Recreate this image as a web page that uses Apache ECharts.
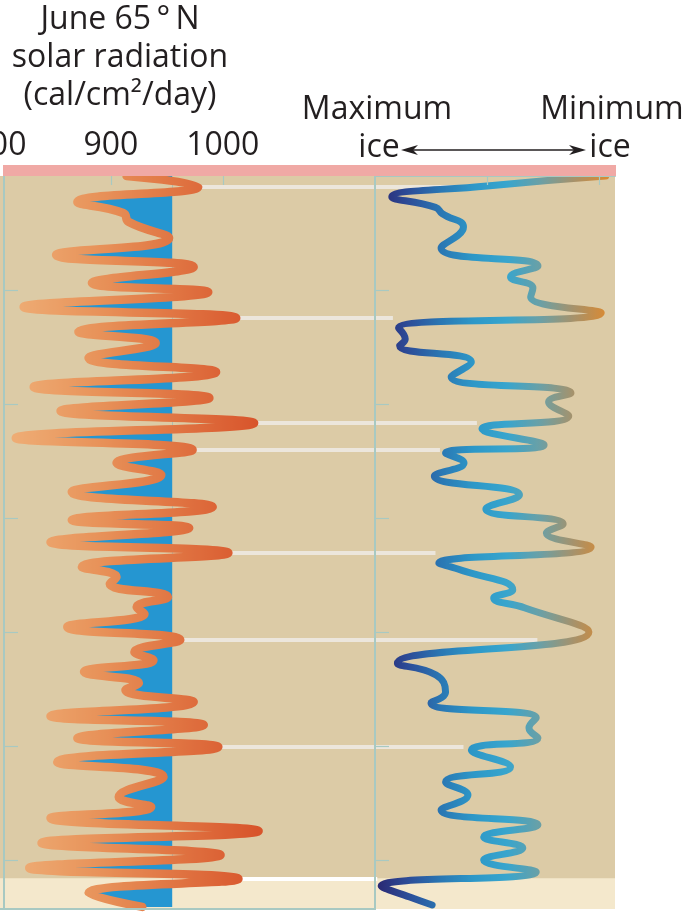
<!DOCTYPE html>
<html><head><meta charset="utf-8">
<script src="https://cdn.jsdelivr.net/npm/echarts@6/dist/echarts.min.js"></script>
<style>html,body{margin:0;padding:0;background:#fff}#c{width:692px;height:912px}</style>
</head><body><div id="c"></div>
<script>
// ---------- data (age in thousand years before present, downward) ----------
const radAges = [0, 9.6, 22.8, 32.5, 40.4, 54.4, 69.3, 79.8, 93.9, 101.8, 114.9, 124.6, 136.8, 146.5, 159.6, 171.9, 185.1, 194.7, 206.1, 216.7, 229.8, 240.4, 251.8, 262.3, 277.2, 290.4, 301.8, 308.8, 321.1, 330.7, 343.0, 351.8, 357.9, 369.3, 378.1, 384, 395.6, 407, 417.5, 424.6, 435.1, 444.7, 450.9, 461.4, 473.7, 481.6, 493, 500.9, 514, 527.2, 544.7, 553.5, 563.2, 574.6, 585.1, 595.6, 607, 616.7, 629, 641.2];
const radValues = [914, 978, 870, 911, 916, 952, 851, 974, 883, 987, 822, 1012, 871, 940, 880, 994, 831, 988, 855, 1028, 815, 973, 905, 945, 865, 991, 865, 970, 846, 1005, 874, 905, 899, 951, 923, 930, 861, 962, 921, 938, 876, 925, 913, 974, 846, 983, 870, 996, 852, 947, 907, 936, 846, 1032, 838, 998, 827, 1014, 880, 928];
const iceAges = [0, 8.8, 18.4, 27.5, 33, 44.7, 63.2, 78.9, 88.6, 98.2, 106.1, 120.2, 133.3, 143, 149, 163.2, 176.3, 190.4, 198.2, 210.5, 221.9, 236, 243, 251.8, 263.2, 279.8, 292.1, 305.3, 313.2, 325.4, 339.5, 344.7, 363.2, 370.2, 378.9, 400, 427.5, 437.7, 452.6, 462.3, 475.4, 484.2, 493, 503.5, 518.4, 531.6, 543, 556.1, 569.3, 579.8, 589.5, 600, 610.5, 622.8, 632.5, 639.5];
const iceValues = [2.06, 1.0, 0.15, 0.54, 0.6, 0.79, 0.59, 1.455, 1.21, 1.41, 1.39, 2.02, 0.21, 0.27, 0.22, 0.86, 0.68, 1.75, 1.55, 1.73, 0.955, 1.51, 0.63, 0.795, 0.53, 1.29, 0.99, 1.68, 1.53, 1.93, 0.57, 0.74, 1.23, 1.06, 1.34, 1.91, 0.2, 0.545, 0.63, 0.5, 1.44, 1.375, 1.455, 0.86, 1.21, 0.63, 0.83, 0.59, 1.455, 0.97, 1.32, 0.97, 1.44, 0.055, 0.31, 0.51];
const radTickLabels = [800, 900, 1000];
const radTicks = [900, 1000];
const iceTicks = [1, 2];
const ageTicks = [100, 200, 300, 400, 500, 600];
const radThreshold = 955;
const linkAges = [9.6, 124.6, 216.7, 240.4, 330.7, 407, 500.9, 616.7];
const linkIce = [1.0, 0.16, 0.91, 0.58, 0.54, 1.45, 0.79, 0.02];
const highlightAges = [616, 643];
const titleLines = ['June 65\u2009°\u2009N', 'solar radiation', '(cal/cm²/day)'];

// ---------- config ----------
const RAD_MIN = 800, RAD_MAX = 1136, ICE_MIN = 0, ICE_MAX = 2.143, AGE_MIN = 0, AGE_MAX = 643;
const FONT = '"Open Sans", "Noto Sans", sans-serif';
const INK = '#231f20';
const BEIGE = '#dccba6';
const LIGHT = '#f4e8cc';
const AXIS = '#a8c9c2';

function smoothPath(pts, smooth) {
  let d = '';
  let prevX, prevY, cpx0, cpy0, cpx1, cpy1;
  const n = pts.length;
  for (let i = 0; i < n; i++) {
    const x = pts[i][0], y = pts[i][1];
    if (i === 0) { d += 'M ' + x + ' ' + y; cpx0 = x; cpy0 = y; }
    else {
      const ddx = x - prevX, ddy = y - prevY;
      if (ddx * ddx + ddy * ddy < 0.5) continue;
      let ncx, ncy;
      if (i === n - 1) { cpx1 = x; cpy1 = y; }
      else {
        const nx = pts[i + 1][0], ny = pts[i + 1][1];
        let vx = nx - prevX, vy = ny - prevY;
        const lp = Math.hypot(x - prevX, y - prevY), ln = Math.hypot(nx - x, ny - y);
        const r = ln / (ln + lp);
        ncx = x + vx * smooth * r; ncy = y + vy * smooth * r;
        ncx = Math.min(ncx, Math.max(nx, x)); ncy = Math.min(ncy, Math.max(ny, y));
        ncx = Math.max(ncx, Math.min(nx, x)); ncy = Math.max(ncy, Math.min(ny, y));
        vx = ncx - x; vy = ncy - y;
        cpx1 = x - vx * lp / ln; cpy1 = y - vy * lp / ln;
        cpx1 = Math.min(cpx1, Math.max(prevX, x)); cpy1 = Math.min(cpy1, Math.max(prevY, y));
        cpx1 = Math.max(cpx1, Math.min(prevX, x)); cpy1 = Math.max(cpy1, Math.min(prevY, y));
        vx = x - cpx1; vy = y - cpy1;
        ncx = x + vx * ln / lp; ncy = y + vy * ln / lp;
      }
      d += ' C ' + [cpx0, cpy0, cpx1, cpy1, x, y].join(' ');
      cpx0 = ncx; cpy0 = ncy;
    }
    prevX = x; prevY = y;
  }
  return d;
}

function bandRender(params, api) {
  const cs = params.coordSys;
  const y0 = api.coord([api.value(0), highlightAges[0]])[1];
  const y1 = api.coord([api.value(0), highlightAges[1]])[1];
  return { type: 'rect', shape: { x: cs.x, y: y0, width: cs.width, height: y1 - y0 }, style: { fill: LIGHT } };
}

function blueRender(params, api) {
  const cs = params.coordSys;
  const pts = radAges.map((a, i) => api.coord([radValues[i], a]));
  const top = api.coord([radThreshold, radAges[0]]);
  const bot = api.coord([radThreshold, radAges[radAges.length - 1]]);
  const left = api.coord([RAD_MIN, AGE_MIN]);
  const d = smoothPath(pts, 0.5) + ' L ' + bot[0] + ' ' + bot[1] + ' L ' + top[0] + ' ' + top[1] + ' Z';
  return {
    type: 'path', shape: { pathData: d }, style: { fill: '#2596d1' },
    clipPath: { type: 'rect', shape: { x: left[0], y: cs.y, width: top[0] - left[0], height: cs.height } }
  };
}

const chart = echarts.init(document.getElementById('c'), null, { renderer: 'canvas' });

const xBase = { type: 'value', splitLine: { show: false }, z: 6 };
const yBase = { type: 'value', inverse: true, min: AGE_MIN, max: AGE_MAX, interval: 100, axisLabel: { show: false }, splitLine: { show: false }, z: 6 };

const option = {
  animation: false,
  backgroundColor: '#ffffff',
  grid: [
    { left: -1, top: 176, width: 376, height: 733, show: true, backgroundColor: BEIGE, borderWidth: 0, z: 0, containLabel: false, outerBoundsMode: 'none' },
    { left: 375, top: 176, width: 240, height: 733, show: true, backgroundColor: BEIGE, borderWidth: 0, z: 0, containLabel: false, outerBoundsMode: 'none' }
  ],
  xAxis: [
    Object.assign({}, xBase, { gridIndex: 0, position: 'top', min: RAD_MIN, max: RAD_MAX,
      axisLine: { show: false },
      axisTick: { show: true, inside: true, length: 9, customValues: radTicks, lineStyle: { color: AXIS, width: 1.2 } },
      axisLabel: { show: true, customValues: radTickLabels, formatter: v => String(v), hideOverlap: false, fontSize: 32, fontFamily: FONT, color: INK, margin: 30, verticalAlign: 'middle' } }),
    Object.assign({}, xBase, { gridIndex: 0, position: 'bottom', min: RAD_MIN, max: RAD_MAX,
      axisLine: { show: true, lineStyle: { color: AXIS, width: 2 } }, axisTick: { show: false }, axisLabel: { show: false } }),
    Object.assign({}, xBase, { gridIndex: 1, position: 'top', min: ICE_MIN, max: ICE_MAX,
      axisLine: { show: false },
      axisTick: { show: true, inside: true, length: 9, customValues: iceTicks, lineStyle: { color: AXIS, width: 1.2 } },
      axisLabel: { show: false } }),
    Object.assign({}, xBase, { gridIndex: 1, position: 'bottom', min: ICE_MIN, max: ICE_MAX,
      axisLine: { show: true, lineStyle: { color: AXIS, width: 2 } }, axisTick: { show: false }, axisLabel: { show: false } })
  ],
  yAxis: [
    Object.assign({}, yBase, { gridIndex: 0, position: 'left', offset: -5,
      axisLine: { show: true, lineStyle: { color: AXIS, width: 2 } },
      axisTick: { show: true, inside: true, length: 14, customValues: ageTicks, lineStyle: { color: AXIS, width: 1.2 } } }),
    Object.assign({}, yBase, { gridIndex: 1, position: 'left',
      axisLine: { show: true, lineStyle: { color: AXIS, width: 1.6 } },
      axisTick: { show: true, inside: true, length: 14, customValues: ageTicks, lineStyle: { color: AXIS, width: 1.2 } } }),
    Object.assign({}, yBase, { gridIndex: 1, position: 'right',
      axisLine: { show: true, lineStyle: { color: AXIS, width: 2 } }, axisTick: { show: false } })
  ],
  visualMap: [
    { type: 'continuous', show: false, seriesIndex: 5, dimension: 0, min: 815, max: 1032,
      inRange: { color: ['#eeac74', '#e8935a', '#e07442', '#d8542b'] } },
    { type: 'continuous', show: false, seriesIndex: 6, dimension: 0, min: 0, max: 2.06,
      inRange: { color: ['#2a2670', '#2c4c98', '#2a77b3', '#2d98c8', '#38a5cd', '#6aa0a6', '#a5926c', '#d88a34'] } }
  ],
  series: [
    { type: 'custom', xAxisIndex: 0, yAxisIndex: 0, z: 1, silent: true, data: [[RAD_MIN, highlightAges[0]]], renderItem: bandRender },
    { type: 'custom', xAxisIndex: 2, yAxisIndex: 1, z: 1, silent: true, data: [[ICE_MIN, highlightAges[0]]], renderItem: bandRender },
    { type: 'custom', xAxisIndex: 0, yAxisIndex: 0, z: 2, silent: true, data: [[radThreshold, AGE_MIN]], renderItem: blueRender },
    { type: 'lines', coordinateSystem: 'cartesian2d', xAxisIndex: 0, yAxisIndex: 0, z: 3, silent: true,
      lineStyle: { width: 4, opacity: 1, curveness: 0 },
      data: linkAges.map(a => ({ coords: [[radValues[radAges.indexOf(a)], a], [RAD_MAX, a]],
        lineStyle: { color: a >= highlightAges[0] ? '#ffffff' : '#ece6dc' } })) },
    { type: 'lines', coordinateSystem: 'cartesian2d', xAxisIndex: 2, yAxisIndex: 1, z: 3, silent: true,
      lineStyle: { width: 4, opacity: 1, curveness: 0 },
      data: linkAges.map((a, i) => ({ coords: [[ICE_MIN, a], [linkIce[i], a]],
        lineStyle: { color: a >= highlightAges[0] ? '#ffffff' : '#ece6dc' } })) },
    { name: 'June 65°N solar radiation', type: 'line', xAxisIndex: 0, yAxisIndex: 0, z: 4,
      data: radAges.map((a, i) => [radValues[i], a]), smooth: 0.5, symbol: 'none',
      lineStyle: { width: 8.5, cap: 'round' } },
    { name: 'Ice volume', type: 'line', xAxisIndex: 2, yAxisIndex: 1, z: 4,
      data: iceAges.map((a, i) => [iceValues[i], a]), smooth: 0.5, symbol: 'none',
      lineStyle: { width: 7, cap: 'round' } }
  ],
  graphic: [
    { type: 'rect', shape: { x: 3, y: 165, width: 613, height: 11 }, style: { fill: '#f0a9a5' }, z: 10 },
    { type: 'text', x: 120, y: 20, style: { text: titleLines[0], font: '32px ' + FONT, fill: INK, align: 'center', verticalAlign: 'middle' } },
    { type: 'text', x: 120, y: 58, style: { text: titleLines[1], font: '32px ' + FONT, fill: INK, align: 'center', verticalAlign: 'middle' } },
    { type: 'text', x: 120, y: 96, style: { text: titleLines[2], font: '32px ' + FONT, fill: INK, align: 'center', verticalAlign: 'middle' } },
    { type: 'text', x: 377, y: 110, style: { text: 'Maximum', font: '32px ' + FONT, fill: INK, align: 'center', verticalAlign: 'middle' } },
    { type: 'text', x: 379, y: 148, style: { text: 'ice', font: '32px ' + FONT, fill: INK, align: 'center', verticalAlign: 'middle' } },
    { type: 'text', x: 612, y: 110, style: { text: 'Minimum', font: '32px ' + FONT, fill: INK, align: 'center', verticalAlign: 'middle' } },
    { type: 'text', x: 610, y: 148, style: { text: 'ice', font: '32px ' + FONT, fill: INK, align: 'center', verticalAlign: 'middle' } },
    { type: 'line', shape: { x1: 408, y1: 150, x2: 580, y2: 150 }, style: { stroke: INK, lineWidth: 1.6 } },
    { type: 'polygon', shape: { points: [[401, 150], [418, 145], [413, 150], [418, 155]] }, style: { fill: INK } },
    { type: 'polygon', shape: { points: [[586, 150], [569, 145], [574, 150], [569, 155]] }, style: { fill: INK } }
  ]
};
chart.setOption(option);
</script>
</body></html>
